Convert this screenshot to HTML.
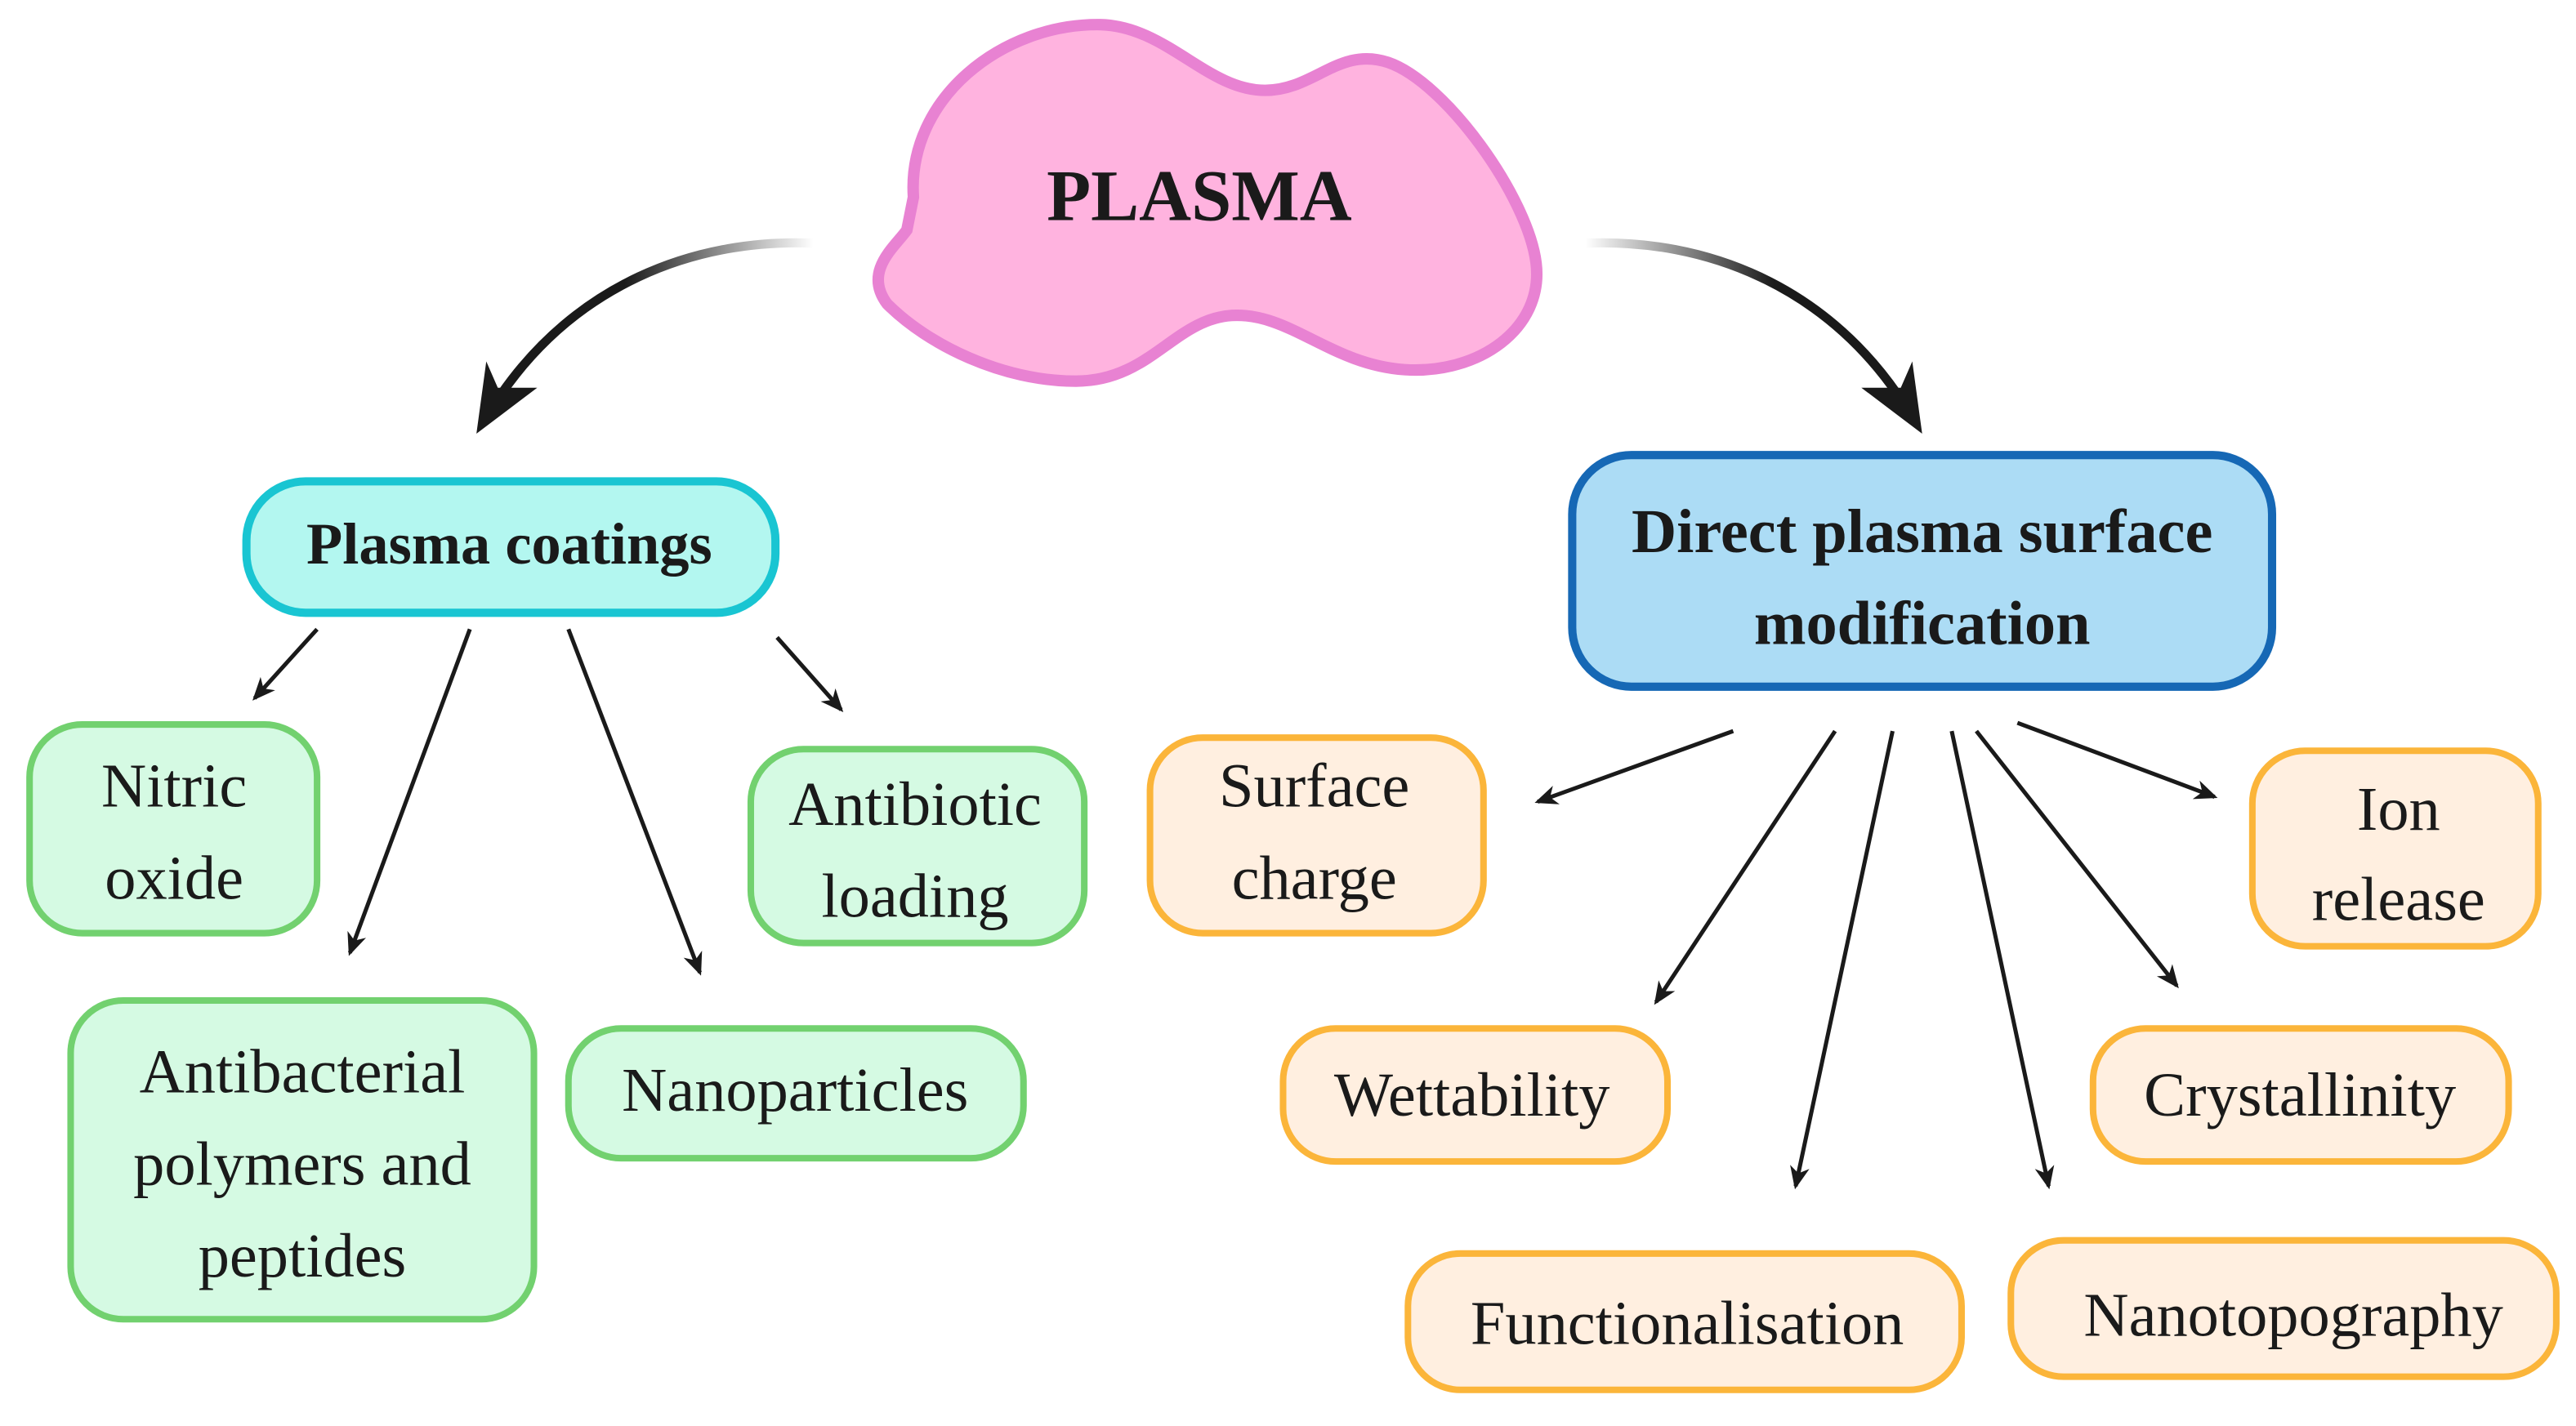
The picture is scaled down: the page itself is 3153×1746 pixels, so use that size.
<!DOCTYPE html>
<html><head><meta charset="utf-8"><style>
html,body{margin:0;padding:0;background:#fff;}
svg{display:block;}
text{font-family:"Liberation Serif",serif;fill:#1a1a1a;text-anchor:middle;}
</style></head><body>
<svg width="3153" height="1746" viewBox="0 0 1568 868" preserveAspectRatio="none" xmlns="http://www.w3.org/2000/svg">
<defs>
<linearGradient id="gl" x1="495" y1="0" x2="380" y2="0" gradientUnits="userSpaceOnUse">
<stop offset="0" stop-color="#1a1a1a" stop-opacity="0"/><stop offset="1" stop-color="#1a1a1a"/></linearGradient>
<linearGradient id="gr" x1="965" y1="0" x2="1080" y2="0" gradientUnits="userSpaceOnUse">
<stop offset="0" stop-color="#1a1a1a" stop-opacity="0"/><stop offset="1" stop-color="#1a1a1a"/></linearGradient>
<marker id="ah" markerWidth="14" markerHeight="14" refX="12" refY="7" orient="auto" markerUnits="userSpaceOnUse">
<path d="M0,1 L14,7 L0,13 L4,7 Z" fill="#1a1a1a"/></marker>
</defs>
<path d="M556,120 C552,60 610,14 670,15 C710,16 735,55 770,55 C800,55 815,28 845,38 C880,50 930,120 935,160 C940,200 900,228 855,225 C810,222 785,190 750,192 C715,194 700,232 655,232 C610,232 565,210 540,185 C525,165 545,150 552,140 Z" fill="#ffb3df" stroke="#e882d2" stroke-width="7"/>
<text x="730" y="134" font-size="44" font-weight="bold">PLASMA</text>
<path d="M495,148 C420,145 350,175 305,240" fill="none" stroke="url(#gl)" stroke-width="5.5"/>
<path d="M290,264 L296,220 L303,236 L327,236 Z" fill="#1a1a1a"/>
<path d="M965,148 C1040,145 1110,175 1155,240" fill="none" stroke="url(#gr)" stroke-width="5.5"/>
<path d="M1170,264 L1164,220 L1157,236 L1133,236 Z" fill="#1a1a1a"/>
<rect x="150" y="293" width="322" height="80" rx="36" fill="#b3f7f0" stroke="#19c5d2" stroke-width="5"/>
<text x="310" y="343" font-size="36" font-weight="bold">Plasma coatings</text>
<rect x="957" y="277" width="426" height="141" rx="36" fill="#acdcf5" stroke="#1668b5" stroke-width="5"/>
<text x="1170" y="336" font-size="38" font-weight="bold">Direct plasma surface</text>
<text x="1170" y="392" font-size="38" font-weight="bold">modification</text>
<g fill="#d5fae3" stroke="#72d16f" stroke-width="4">
<rect x="18" y="441" width="175" height="127" rx="32"/>
<rect x="457" y="456" width="203" height="118" rx="32"/>
<rect x="43" y="609" width="282" height="194" rx="32"/>
<rect x="346" y="626" width="277" height="79" rx="32"/>
</g>
<g fill="#ffefe0" stroke="#fbb53a" stroke-width="4">
<rect x="700" y="449" width="203" height="119" rx="32"/>
<rect x="1371" y="457" width="174" height="119" rx="32"/>
<rect x="781" y="626" width="234" height="81" rx="32"/>
<rect x="1274" y="626" width="253" height="81" rx="32"/>
<rect x="857" y="763" width="337" height="83" rx="32"/>
<rect x="1224" y="755" width="332" height="83" rx="32"/>
</g>
<g font-size="38">
<text x="106" y="491">Nitric</text><text x="106" y="547">oxide</text>
<text x="557" y="502">Antibiotic</text><text x="557" y="558">loading</text>
<text x="184" y="665">Antibacterial</text><text x="184" y="721">polymers and</text><text x="184" y="777">peptides</text>
<text x="484" y="676">Nanoparticles</text>
<text x="800" y="491">Surface</text><text x="800" y="547">charge</text>
<text x="1460" y="505">Ion</text><text x="1460" y="560">release</text>
<text x="896" y="679">Wettability</text>
<text x="1400" y="679">Crystallinity</text>
<text x="1027" y="818">Functionalisation</text>
<text x="1396" y="813">Nanotopography</text>
</g>
<g stroke="#1a1a1a" stroke-width="2.5" fill="none" marker-end="url(#ah)">
<line x1="193" y1="383" x2="155" y2="425"/>
<line x1="286" y1="383" x2="213" y2="580"/>
<line x1="346" y1="383" x2="426" y2="592"/>
<line x1="473" y1="388" x2="512" y2="432"/>
<line x1="1055" y1="445" x2="936" y2="488"/>
<line x1="1117" y1="445" x2="1008" y2="610"/>
<line x1="1152" y1="445" x2="1093" y2="722"/>
<line x1="1188" y1="445" x2="1247" y2="722"/>
<line x1="1203" y1="445" x2="1325" y2="600"/>
<line x1="1228" y1="440" x2="1348" y2="485"/>
</g>
</svg>
</body></html>
